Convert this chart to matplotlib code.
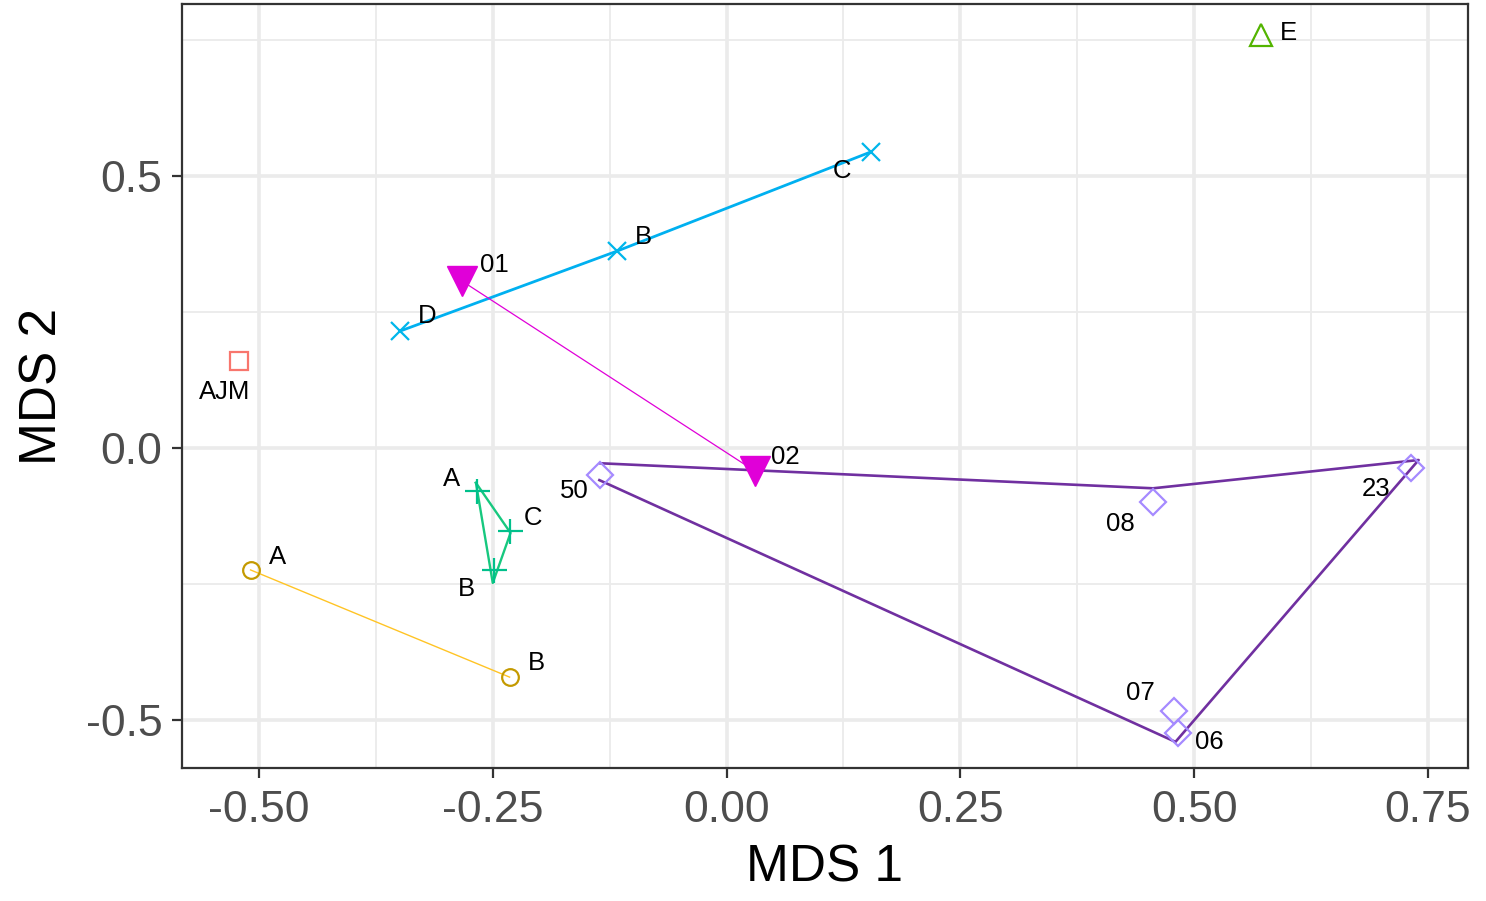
import matplotlib
matplotlib.use("Agg")
import matplotlib.pyplot as plt
from matplotlib.ticker import MultipleLocator

plt.rcParams['font.family'] = ['Liberation Sans', 'DejaVu Sans']

# --- data -------------------------------------------------------------
ajm_x = [-0.521]
ajm_y = [0.160]
ajm_lab = ["AJM"]

gold_x = [-0.509, -0.232]
gold_y = [-0.224, -0.421]
gold_lab = ["A", "B"]

green_x = [-0.267, -0.232, -0.249]
green_y = [-0.079, -0.153, -0.224]
green_lab = ["A", "C", "B"]
green_path_x = [-0.268, -0.231, -0.250, -0.268]
green_path_y = [-0.064, -0.156, -0.248, -0.064]

cyan_x = [-0.349, -0.117, 0.154]
cyan_y = [0.215, 0.362, 0.544]
cyan_lab = ["D", "B", "C"]

mag_x = [-0.283, 0.030]
mag_y = [0.307, -0.042]
mag_lab = ["01", "02"]

purple_x = [-0.135, 0.456, 0.732, 0.478, 0.483]
purple_y = [-0.050, -0.099, -0.037, -0.483, -0.524]
purple_lab = ["50", "08", "23", "07", "06"]
purple_path_x = [-0.135, 0.456, 0.740, 0.480, -0.136]
purple_path_y = [-0.028, -0.074, -0.022, -0.540, -0.059]

e_x = [0.571]
e_y = [0.759]
e_lab = ["E"]

# --- figure -----------------------------------------------------------
fig = plt.figure(figsize=(14.86, 9.01), dpi=100)
ax = fig.add_axes([182 / 1486, 1 - 768 / 901, (1468 - 182) / 1486, (768 - 4) / 901])
ax.set_xlim(-0.5823, 0.7928)
ax.set_ylim(-0.588, 0.816)

ax.xaxis.set_major_locator(MultipleLocator(0.25))
ax.xaxis.set_minor_locator(MultipleLocator(0.125))
ax.yaxis.set_major_locator(MultipleLocator(0.5))
ax.yaxis.set_minor_locator(MultipleLocator(0.25))
ax.grid(which='major', color='#EBEBEB', lw=2.6, zorder=0)
ax.grid(which='minor', color='#EBEBEB', lw=1.3, zorder=0)
ax.set_axisbelow(True)
ax.tick_params(which='minor', length=0)
ax.tick_params(which='major', length=7, width=1.6, color='#333333',
               labelsize=32, labelcolor='#4D4D4D', pad=7)
ax.tick_params(axis='x', pad=9)
ax.set_xticks([-0.5, -0.25, 0, 0.25, 0.5, 0.75])
ax.set_xticklabels(["-0.50", "-0.25", "0.00", "0.25", "0.50", "0.75"])
ax.set_yticks([-0.5, 0, 0.5])
ax.set_yticklabels(["-0.5", "0.0", "0.5"])
for s in ax.spines.values():
    s.set_color('#333333')
    s.set_linewidth(1.6)

ax.set_xlabel("MDS 1", fontsize=37, labelpad=9)
ax.set_ylabel("MDS 2", fontsize=37, labelpad=13)

# connecting paths
ax.plot(gold_x, gold_y, color='#FFC425', lw=1.0, zorder=2)
ax.plot(green_path_x, green_path_y, color='#17C87F', lw=1.7, zorder=2)
ax.plot(cyan_x, cyan_y, color='#00B0F0', lw=2.0, zorder=2)
ax.plot(mag_x, mag_y, color='#E000D8', lw=0.9, zorder=2)
ax.plot(purple_path_x, purple_path_y, color='#7030A0', lw=1.9, zorder=2)

# points
ax.plot(ajm_x, ajm_y, 's', ms=13, mfc='none', mec='#F8766D', mew=1.6, zorder=3)
ax.plot(gold_x, gold_y, 'o', ms=12, mfc='none', mec='#C49A00', mew=1.6, zorder=3)
ax.plot(green_x, green_y, '+', ms=18, mec='#00C08B', mew=1.6, zorder=3)
ax.plot(cyan_x, cyan_y, 'x', ms=13, mec='#00B6EB', mew=1.6, zorder=3)
ax.plot(mag_x, mag_y, 'v', ms=22, mfc='#E000D8', mec='#E000D8', zorder=3)
ax.plot(purple_x, purple_y, 'D', ms=13, mfc='none', mec='#A58AFF', mew=1.6, zorder=3)
ax.plot(e_x, e_y, '^', ms=16, mfc='none', mec='#53B400', mew=1.6, zorder=3)

# point labels (offsets in pixels, y up)
def label(xs, ys, labs, offs):
    for x, y, t, (dx, dy) in zip(xs, ys, labs, offs):
        ax.annotate(t, (x, y), xytext=(dx, dy), textcoords='offset pixels',
                    ha='center', va='center', fontsize=18.5, color='black', zorder=4)

label(ajm_x, ajm_y, ajm_lab, [(-15, -31)])
label(gold_x, gold_y, gold_lab, [(27, 13), (27, 14)])
label(green_x, green_y, green_lab, [(-25, 12), (23, 13), (-27, -19)])
label(cyan_x, cyan_y, cyan_lab, [(27, 15), (26, 14), (-29, -19)])
label(mag_x, mag_y, mag_lab, [(32, 16), (31, 14)])
label(purple_x, purple_y, purple_lab, [(-26, -16), (-33, -22), (-35, -21), (-33, 18), (31, -9)])
label(e_x, e_y, e_lab, [(28, 2)])

fig.savefig("out.png", dpi=100)
